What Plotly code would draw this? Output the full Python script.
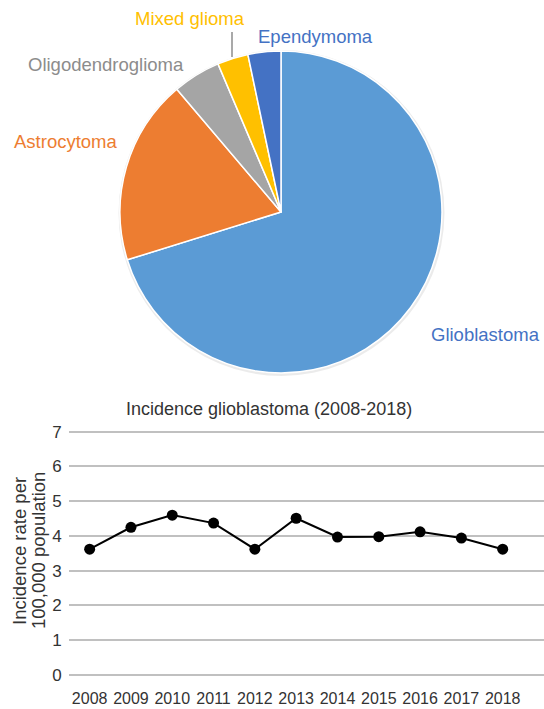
import plotly.graph_objects as go

# Glioma subtype distribution (percent)
subtypes = ["Glioblastoma", "Astrocytoma", "Oligodendroglioma", "Mixed glioma", "Ependymoma"]
subtype_share = [70.2, 18.6, 4.8, 3.1, 3.3]
slice_colors = ["#5B9BD5", "#ED7D31", "#A5A5A5", "#FFC000", "#4472C4"]
label_colors = ["#4472C4", "#ED7D31", "#8C8C8C", "#FFC000", "#4472C4"]

# Glioblastoma incidence per 100,000 population
years = ["2008", "2009", "2010", "2011", "2012", "2013", "2014", "2015", "2016", "2017", "2018"]
incidence = [3.62, 4.25, 4.60, 4.37, 3.62, 4.51, 3.97, 3.98, 4.12, 3.94, 3.62]
y_ticks = [0, 1, 2, 3, 4, 5, 6, 7]

W, H = 544, 709
FONT = "Liberation Sans, Arial, Helvetica, sans-serif"


def px(x):
    return x / W


def py(y):
    return 1 - y / H


fig = go.Figure()

# Soft shadow behind the pie
fig.add_trace(go.Pie(
    values=[1], marker=dict(colors=["rgba(0,0,0,0.08)"], line=dict(width=0)),
    domain=dict(x=[px(118), px(445)], y=[py(376), py(50)]),
    textinfo="none", hoverinfo="skip", showlegend=False, sort=False,
))

fig.add_trace(go.Pie(
    labels=subtypes, values=subtype_share,
    marker=dict(colors=slice_colors, line=dict(color="white", width=1.5)),
    domain=dict(x=[px(120), px(442)], y=[py(373), py(51)]),
    direction="clockwise", rotation=0, sort=False,
    textinfo="none", showlegend=False,
))

# Pie labels, placed around the pie
label_pos = {
    "Glioblastoma": (485, 335),
    "Astrocytoma": (66, 141),
    "Oligodendroglioma": (106, 65),
    "Mixed glioma": (190, 19),
    "Ependymoma": (315, 36),
}
for name, col in zip(subtypes, label_colors):
    x, y = label_pos[name]
    fig.add_annotation(x=px(x), y=py(y), xref="paper", yref="paper",
                       text=name, showarrow=False,
                       font=dict(family=FONT, size=18.5, color=col),
                       xanchor="center", yanchor="middle")

# Leader line for the small "Mixed glioma" slice
fig.add_shape(type="line", xref="paper", yref="paper",
              x0=px(232), x1=px(232), y0=py(32), y1=py(57),
              line=dict(color="#8C8C8C", width=1.5))

# Incidence line chart
fig.add_trace(go.Scatter(
    x=years, y=incidence, mode="lines+markers",
    line=dict(color="black", width=2),
    marker=dict(color="black", size=11),
    showlegend=False, xaxis="x", yaxis="y",
))

fig.update_layout(
    width=W, height=H, autosize=False,
    margin=dict(l=0, r=0, t=0, b=0, pad=0, autoexpand=False),
    paper_bgcolor="white", plot_bgcolor="white",
    showlegend=False,
    font=dict(family=FONT, color="#404040"),
    xaxis=dict(domain=[px(69), 1.0], type="category", automargin=False,
               range=[-0.5, 11.0], showgrid=False, zeroline=False,
               showline=False, ticks="outside", ticklen=8,
               tickcolor="rgba(0,0,0,0)",
               tickfont=dict(size=16, color="#333333")),
    yaxis=dict(domain=[py(676), py(430.7)], range=[-0.03, 7.03], automargin=False,
               tickvals=y_ticks, showgrid=True, gridcolor="#C0C0C0",
               gridwidth=1.5, zeroline=False, showline=False,
               ticks="outside", ticklen=3, tickcolor="rgba(0,0,0,0)",
               tickfont=dict(size=17, color="#333333")),
)

fig.add_annotation(x=px(269), y=py(409), xref="paper", yref="paper",
                   text="Incidence glioblastoma (2008-2018)", showarrow=False,
                   font=dict(family=FONT, size=18, color="#333333"),
                   xanchor="center", yanchor="middle")

# Two-line y-axis title, rotated
for text, x in [("Incidence rate per", 19), ("100,000 population", 38)]:
    fig.add_annotation(x=px(x), y=py(551), xref="paper", yref="paper",
                       text=text, showarrow=False, textangle=-90,
                       font=dict(family=FONT, size=18.5, color="#333333"),
                       xanchor="center", yanchor="middle")

fig.write_html("out.html", config={"responsive": False})
